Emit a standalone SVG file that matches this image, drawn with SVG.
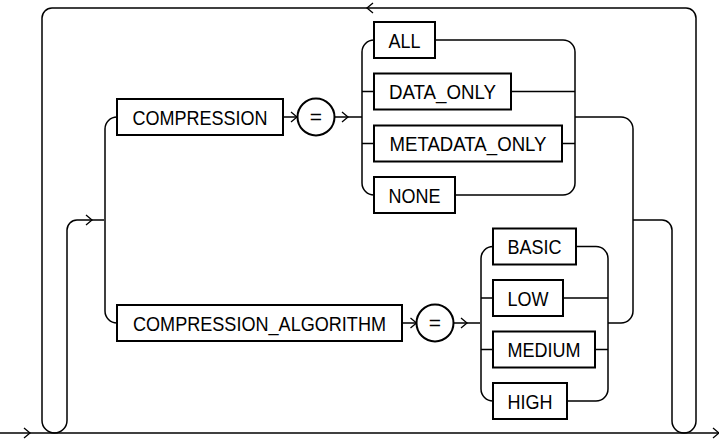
<svg xmlns="http://www.w3.org/2000/svg" width="719" height="441" viewBox="0 0 719 441">
<style>
.box{fill:#fff;stroke:#000;stroke-width:2}
.ln{fill:none;stroke:#000;stroke-width:1.5}
.ar{fill:none;stroke:#000;stroke-width:1.3}
text{font-family:"Liberation Sans",Arial,sans-serif;font-size:21px;fill:#000;text-anchor:middle}
</style>
<defs>
<path id="ah" d="M-6,-5 L0,0 L-6,5" class="ar"/>
</defs>
<g id="connectors">
<path class="ln" d="M0,433 H719"/>
<path class="ln" d="M633,220 H662 A10,10 0 0 1 672,230 V421 A12,12 0 0 0 696,421 V18 A10,10 0 0 0 686,8 H52 A10,10 0 0 0 42,18 V420.5 A12.5,12.5 0 0 0 67,420.5 V230 A10,10 0 0 1 77,220 H104"/>
<path class="ln" d="M117,117 A12,12 0 0 0 105,129 V311 A12,12 0 0 0 117,323"/>
<path class="ln" d="M283,117 H297 M335,117 H362"/>
<path class="ln" d="M402,323 H416.5 M453.5,323 H480"/>
<path class="ln" d="M374,40 A12,12 0 0 0 362,52 V183 A12,12 0 0 0 374,195 M362,91.5 H374 M362,143.5 H374"/>
<path class="ln" d="M435,40 H563 A12,12 0 0 1 575,52 V183 A12,12 0 0 1 563,195 H455 M511,91.5 H575 M562,143.5 H575"/>
<path class="ln" d="M575,117 H621 A12,12 0 0 1 633,129 V311 A12,12 0 0 1 621,323 H608"/>
<path class="ln" d="M493,246.5 A12,12 0 0 0 481,258.5 V389 A12,12 0 0 0 493,401 M481,298 H493 M481,349.5 H493"/>
<path class="ln" d="M576,246.5 H596 A12,12 0 0 1 608,258.5 V389 A12,12 0 0 1 596,401 H567 M563,298 H608 M595,349.5 H608"/>
<use href="#ah" x="30" y="433"/>
<use href="#ah" x="92" y="220"/>
<use href="#ah" x="297" y="117"/>
<use href="#ah" x="348" y="117"/>
<use href="#ah" x="416.5" y="323"/>
<use href="#ah" x="467" y="323"/>
<use href="#ah" x="719" y="433"/>
<path class="ar" d="M373,3 L367,8 L373,13"/>
</g>
<g id="n-compression"><rect class="box" x="117" y="99" width="166" height="36"/><text x="200" y="124.5" textLength="135" lengthAdjust="spacingAndGlyphs">COMPRESSION</text></g>
<g id="n-eq1"><circle class="box" cx="316" cy="117" r="18.5"/><text x="316" y="124">=</text></g>
<g id="n-algorithm"><rect class="box" x="117" y="305" width="285" height="36"/><text x="259.5" y="330.5" textLength="253" lengthAdjust="spacingAndGlyphs">COMPRESSION_ALGORITHM</text></g>
<g id="n-eq2"><circle class="box" cx="435" cy="323" r="18.5"/><text x="435" y="330">=</text></g>
<g id="n-all"><rect class="box" x="374" y="22" width="61" height="36"/><text x="404.5" y="47.5" textLength="32" lengthAdjust="spacingAndGlyphs">ALL</text></g>
<g id="n-data-only"><rect class="box" x="374" y="73.5" width="137" height="36"/><text x="442.5" y="99" textLength="107" lengthAdjust="spacingAndGlyphs">DATA_ONLY</text></g>
<g id="n-metadata-only"><rect class="box" x="374" y="125.5" width="188" height="36"/><text x="468" y="151" textLength="157" lengthAdjust="spacingAndGlyphs">METADATA_ONLY</text></g>
<g id="n-none"><rect class="box" x="374" y="177" width="81" height="36"/><text x="414.5" y="202.5" textLength="52" lengthAdjust="spacingAndGlyphs">NONE</text></g>
<g id="n-basic"><rect class="box" x="493" y="228.5" width="83" height="36"/><text x="534.5" y="254" textLength="54" lengthAdjust="spacingAndGlyphs">BASIC</text></g>
<g id="n-low"><rect class="box" x="493" y="280" width="70" height="36"/><text x="528" y="305.5" textLength="41" lengthAdjust="spacingAndGlyphs">LOW</text></g>
<g id="n-medium"><rect class="box" x="493" y="331.5" width="102" height="36"/><text x="544" y="357" textLength="73" lengthAdjust="spacingAndGlyphs">MEDIUM</text></g>
<g id="n-high"><rect class="box" x="493" y="383" width="74" height="36"/><text x="530" y="408.5" textLength="45" lengthAdjust="spacingAndGlyphs">HIGH</text></g>
</svg>
